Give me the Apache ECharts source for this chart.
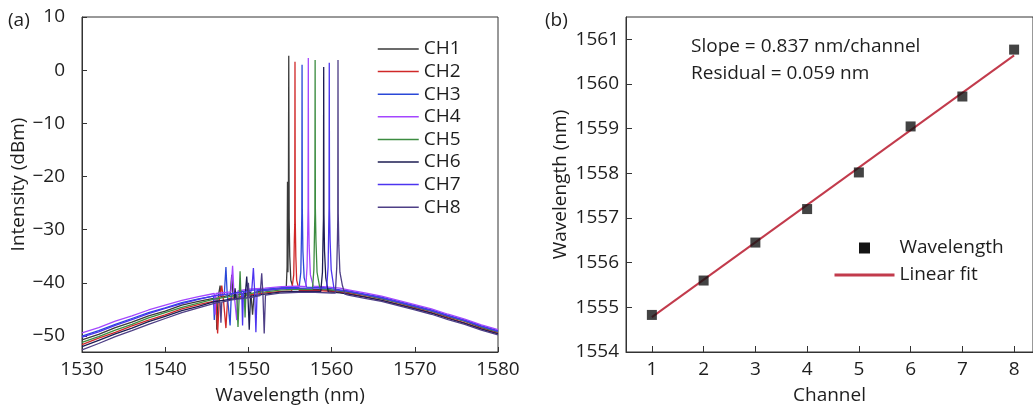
<!DOCTYPE html>
<html><head><meta charset="utf-8">
<script src="https://cdn.jsdelivr.net/npm/echarts@6/dist/echarts.min.js"></script>
<style>html,body{margin:0;padding:0;background:#fff}#c{width:1033px;height:410px}</style>
</head><body><div id="c"></div>
<script>
// ---------- data: panel (a) spectra ----------
const channelNames = ['CH1','CH2','CH3','CH4','CH5','CH6','CH7','CH8'];
const ch1 = [[1530,-50.7],[1532,-49.7],[1534,-48.4],[1536,-47.4],[1538,-46.2],[1540,-45.3],[1542,-44.2],[1544,-43.5],
 [1545.8,-42.9],[1546.1,-42.7],[1546.2,-48.8],[1546.35,-42.8],[1546.5,-42.7],[1546.6,-40.5],[1546.7,-42.7],[1547.8,-42.3],[1548.0,-38.5],[1548.15,-42.4],[1550.3,-41.8],[1550.5,-46.0],[1550.7,-41.8],[1552,-41.4],[1554,-41.1],
 [1554.55,-41.0],[1554.65,-37],[1554.7,-21],[1554.75,-38],[1554.8,-30],[1554.85,2.7],[1554.9,-28],[1554.97,-35],[1555.1,-39.5],[1555.4,-41.0],[1557,-41.2],[1559,-41.3],[1561,-41.6],
 [1562,-41.8],[1564,-42.3],[1566,-43.0],[1568,-43.7],[1570,-44.6],[1572,-45.3],[1574,-46.4],[1576,-47.2],[1578,-48.4],[1580,-49.3]];
const ch2 = [[1530,-51.6],[1532,-50.4],[1534,-49.3],[1536,-48.1],[1538,-47.0],[1540,-46.0],[1542,-44.9],[1544,-44.1],
 [1545.8,-43.5],[1546.1,-43.4],[1546.3,-49.5],[1546.5,-43.3],[1546.8,-40.5],[1547.0,-43.2],[1547.3,-48.5],[1547.5,-43.0],[1550,-42.3],[1552,-41.9],[1554,-41.6],
 [1555.2,-41.5],[1555.45,-38.5],[1555.52,-32],[1555.57,-29],[1555.6,1.6],[1555.63,-28],[1555.7,-35],[1555.8,-39.5],[1556.1,-41.4],[1558,-41.4],[1560,-41.6],[1561,-41.8],
 [1562,-42.0],[1564,-42.6],[1566,-43.3],[1568,-44.0],[1570,-44.8],[1572,-45.6],[1574,-46.6],[1576,-47.5],[1578,-48.6],[1580,-49.5]];
const ch3 = [[1530,-50.0],[1532,-49.0],[1534,-47.8],[1536,-46.7],[1538,-45.6],[1540,-44.7],[1542,-43.7],[1544,-43.0],
 [1545.8,-42.5],[1545.9,-47.0],[1546.0,-42.4],[1547.1,-42.2],[1547.3,-37.0],[1547.45,-42.1],[1547.65,-42.1],[1547.8,-48.0],[1547.95,-42.0],[1550,-41.4],[1552,-41.2],[1554,-40.9],[1555.5,-40.9],
 [1556.1,-40.8],[1556.3,-38],[1556.38,-31],[1556.42,-27],[1556.45,1.0],[1556.48,-26],[1556.55,-34],[1556.7,-39],[1557,-40.8],[1559,-40.9],[1561,-41.3],
 [1562,-41.5],[1564,-42.1],[1566,-42.7],[1568,-43.5],[1570,-44.3],[1572,-45.1],[1574,-46.1],[1576,-47.0],[1578,-48.1],[1580,-49.0]];
const ch4 = [[1530,-49.4],[1532,-48.4],[1534,-47.2],[1536,-46.2],[1538,-45.1],[1540,-44.2],[1542,-43.3],[1544,-42.6],
 [1545.9,-42.0],[1546.0,-46.0],[1546.1,-42.0],[1547.9,-41.7],[1548.1,-36.8],[1548.25,-41.6],[1548.45,-41.6],[1548.6,-47.0],[1548.75,-41.5],[1550,-41.2],[1552,-41.0],[1554,-40.7],[1556,-40.6],
 [1556.9,-40.7],[1557.05,-37],[1557.13,-30],[1557.17,-26],[1557.2,2.3],[1557.23,-26],[1557.3,-33],[1557.45,-38.5],[1557.8,-40.6],[1559,-40.7],[1561,-41.0],
 [1562,-41.3],[1564,-41.9],[1566,-42.5],[1568,-43.3],[1570,-44.1],[1572,-44.9],[1574,-45.9],[1576,-46.8],[1578,-47.9],[1580,-48.8]];
const ch5 = [[1530,-51.2],[1532,-50.1],[1534,-48.9],[1536,-47.8],[1538,-46.6],[1540,-45.6],[1542,-44.6],[1544,-43.8],
 [1546,-43.0],[1548.6,-42.4],[1548.75,-48.3],[1548.9,-42.3],[1549.0,-37.8],[1549.1,-42.3],[1549.5,-42.2],[1549.6,-46.5],[1549.7,-42.2],[1551,-41.8],[1552,-41.7],[1554,-41.3],[1556,-41.2],
 [1557.7,-41.2],[1557.87,-37.5],[1557.95,-30],[1557.99,-27],[1558.02,1.9],[1558.05,-26],[1558.12,-32],[1558.25,-38],[1558.6,-41.1],[1560,-41.3],[1561,-41.5],
 [1562,-41.7],[1564,-42.3],[1566,-42.9],[1568,-43.7],[1570,-44.5],[1572,-45.3],[1574,-46.3],[1576,-47.2],[1578,-48.3],[1580,-49.2]];
const ch6 = [[1530,-52.0],[1532,-50.8],[1534,-49.6],[1536,-48.5],[1538,-47.3],[1540,-46.3],[1542,-45.2],[1544,-44.4],
 [1546,-43.5],[1548.3,-43.0],[1548.4,-41.0],[1548.5,-43.0],[1549.6,-42.7],[1549.8,-38.8],[1549.95,-42.6],[1550.1,-48.8],[1550.25,-42.5],[1552,-42.1],[1554,-41.7],[1556,-41.6],[1558,-41.6],
 [1558.7,-41.6],[1558.9,-38],[1558.98,-31],[1559.02,-28],[1559.05,0.6],[1559.08,-27],[1559.15,-34],[1559.3,-39],[1559.6,-41.7],[1561,-41.9],
 [1562,-42.1],[1564,-42.7],[1566,-43.3],[1568,-44.1],[1570,-44.9],[1572,-45.7],[1574,-46.7],[1576,-47.6],[1578,-48.7],[1580,-49.6]];
const ch7 = [[1530,-50.2],[1532,-49.2],[1534,-48.0],[1536,-46.9],[1538,-45.8],[1540,-44.8],[1542,-43.9],[1544,-43.1],
 [1546,-42.4],[1549.2,-41.8],[1549.3,-48.0],[1549.4,-41.8],[1550.4,-41.5],[1550.6,-37.2],[1550.75,-41.5],[1550.9,-49.3],[1551.05,-41.4],[1552,-41.4],[1554,-41.1],[1556,-41.0],[1558,-41.0],
 [1559.4,-41.0],[1559.58,-37],[1559.65,-30],[1559.69,-26],[1559.72,1.4],[1559.75,-26],[1559.82,-32],[1559.95,-37.5],[1560.3,-41.2],[1561,-41.4],
 [1562,-41.6],[1564,-42.2],[1566,-42.8],[1568,-43.6],[1570,-44.4],[1572,-45.2],[1574,-46.2],[1576,-47.1],[1578,-48.2],[1580,-49.1]];
const ch8 = [[1530,-52.6],[1532,-51.4],[1534,-50.1],[1536,-49.0],[1538,-47.8],[1540,-46.7],[1542,-45.6],[1544,-44.7],
 [1546,-43.8],[1546.6,-43.6],[1546.7,-47.5],[1546.8,-43.6],[1548,-43.2],[1549.9,-42.8],[1550.0,-40.0],[1550.1,-42.8],[1551.4,-42.4],[1551.6,-38.2],[1551.75,-42.3],[1551.9,-49.5],[1552.05,-42.3],[1554,-41.9],[1556,-41.8],[1558,-41.8],[1560,-41.9],
 [1560.45,-41.9],[1560.62,-37],[1560.7,-32],[1560.74,-28],[1560.77,1.9],[1560.8,-27],[1560.87,-33],[1561.0,-38],[1561.3,-40.5],[1561.6,-42.1],
 [1562,-42.3],[1564,-42.9],[1566,-43.5],[1568,-44.3],[1570,-45.1],[1572,-45.9],[1574,-46.9],[1576,-47.8],[1578,-48.9],[1580,-49.8]];
const spectra = [ch1, ch2, ch3, ch4, ch5, ch6, ch7, ch8];
const wavelengthTicks = [1530, 1540, 1550, 1560, 1570, 1580];
const intensityTicks = [-50, -40, -30, -20, -10, 0, 10];

// ---------- data: panel (b) ----------
const channels = [1, 2, 3, 4, 5, 6, 7, 8];
const peakWavelengths = [1554.83, 1555.6, 1556.45, 1557.2, 1558.02, 1559.05, 1559.72, 1560.77];
const fitLine = [[1, 1554.78], [8, 1560.64]];
const peakWlTicks = [1554, 1555, 1556, 1557, 1558, 1559, 1560, 1561];

// ---------- styles ----------
const chColors = ['#3a3a3a', '#d02828', '#2a48d8', '#a446ff', '#3c8c40', '#1c1c52', '#4c34f0', '#4e3f86'];
const FONT = "'Open Sans', sans-serif";
const TXT = '#1e1e1e';
const AX = '#333';

const chart = echarts.init(document.getElementById('c'), null, {renderer: 'canvas'});

const plain = v => String(v).replace('-', '\u2212');

const option = {
  animation: false,
  textStyle: {fontFamily: FONT},
  grid: [
    {left: 82, right: 535, top: 17, bottom: 55, show: true, borderColor: AX, borderWidth: 1, backgroundColor: 'transparent'},
    {left: 626, right: -2, top: 17, bottom: 55, show: true, borderColor: AX, borderWidth: 1, backgroundColor: 'transparent'}
  ],
  xAxis: [
    {type: 'value', gridIndex: 0, min: 1530, max: 1580,
     axisLine: {onZero: false, lineStyle: {color: AX, width: 1}},
     axisTick: {inside: true, length: 5, customValues: wavelengthTicks, lineStyle: {color: AX}},
     axisLabel: {customValues: wavelengthTicks, margin: 8, fontSize: 19, color: TXT, fontFamily: FONT, formatter: plain},
     splitLine: {show: false},
     name: 'Wavelength (nm)', nameLocation: 'middle', nameGap: 34,
     nameTextStyle: {fontSize: 19, color: TXT, fontFamily: FONT}},
    {type: 'value', gridIndex: 1, min: 0.5, max: 8.365,
     axisLine: {onZero: false, lineStyle: {color: AX, width: 1}},
     axisTick: {inside: true, length: 6, customValues: channels, lineStyle: {color: AX}},
     axisLabel: {customValues: channels, margin: 8, fontSize: 19, color: TXT, fontFamily: FONT, formatter: plain},
     splitLine: {show: false},
     name: 'Channel', nameLocation: 'middle', nameGap: 34,
     nameTextStyle: {fontSize: 19, color: TXT, fontFamily: FONT}}
  ],
  yAxis: [
    {type: 'value', gridIndex: 0, min: -53, max: 10,
     axisLine: {show: true, onZero: false, lineStyle: {color: AX, width: 1}},
     axisTick: {show: true, inside: true, length: 5, customValues: intensityTicks, lineStyle: {color: AX}},
     axisLabel: {customValues: intensityTicks, margin: 17, fontSize: 19, color: TXT, fontFamily: FONT, formatter: plain},
     splitLine: {show: false},
     name: 'Intensity (dBm)', nameLocation: 'middle', nameGap: 42,
     nameTextStyle: {fontSize: 19, color: TXT, fontFamily: FONT}},
    {type: 'value', gridIndex: 1, min: 1554, max: 1561.5,
     axisLine: {show: true, onZero: false, lineStyle: {color: AX, width: 1}},
     axisTick: {show: true, inside: true, length: 6, customValues: peakWlTicks, lineStyle: {color: AX}},
     axisLabel: {customValues: peakWlTicks, margin: 7, fontSize: 19, color: TXT, fontFamily: FONT, formatter: plain},
     splitLine: {show: false},
     name: 'Wavelength (nm)', nameLocation: 'middle', nameGap: 56,
     nameTextStyle: {fontSize: 19, color: TXT, fontFamily: FONT}}
  ],
  legend: [
    {orient: 'vertical', left: 377, top: 39, padding: 0, itemWidth: 41, itemHeight: 20, itemGap: 2.6,
     selectedMode: false, data: channelNames,
     itemStyle: {opacity: 0},
     lineStyle: {width: 1.5},
     textStyle: {fontSize: 19, lineHeight: 20, color: TXT, fontFamily: FONT}},
    {orient: 'vertical', left: 833, top: 238, padding: 0, itemWidth: 60, itemHeight: 11, itemGap: 7,
     selectedMode: false,
     itemStyle: {opacity: 0},
     data: [{name: 'Wavelength', icon: 'path://M0,0h10v10h-10z', itemStyle: {opacity: 1}}, {name: 'Linear fit'}],
     lineStyle: {width: 3},
     textStyle: {fontSize: 19, lineHeight: 20, color: TXT, fontFamily: FONT}}
  ],
  graphic: [
    {type: 'text', left: 8, top: 11, style: {text: '(a)', fontSize: 19, fill: TXT, fontFamily: FONT}},
    {type: 'text', left: 545, top: 11, style: {text: '(b)', fontSize: 19, fill: TXT, fontFamily: FONT}},
    {type: 'text', x: 691, y: 47, style: {text: 'Slope = 0.837 nm/channel', fontSize: 19, fill: TXT, fontFamily: FONT, verticalAlign: 'middle'}},
    {type: 'text', x: 691, y: 74, style: {text: 'Residual = 0.059 nm', fontSize: 19, fill: TXT, fontFamily: FONT, verticalAlign: 'middle'}}
  ],
  series: [
    ...spectra.map((d, i) => ({
      name: channelNames[i], type: 'line', xAxisIndex: 0, yAxisIndex: 0,
      data: d, symbol: 'none', clip: true,
      lineStyle: {color: chColors[i], width: 1.3},
      itemStyle: {color: chColors[i]}
    })),
    {name: 'Linear fit', type: 'line', xAxisIndex: 1, yAxisIndex: 1, data: fitLine,
     symbol: 'none', lineStyle: {color: '#c23b4c', width: 2}, itemStyle: {color: '#c23b4c'}, z: 2},
    {name: 'Wavelength', type: 'scatter', xAxisIndex: 1, yAxisIndex: 1,
     data: channels.map((c, i) => [c, peakWavelengths[i]]),
     symbol: 'rect', symbolSize: 10, itemStyle: {color: '#141414'}, z: 3}
  ]
};
chart.setOption(option);
</script>
</body></html>
